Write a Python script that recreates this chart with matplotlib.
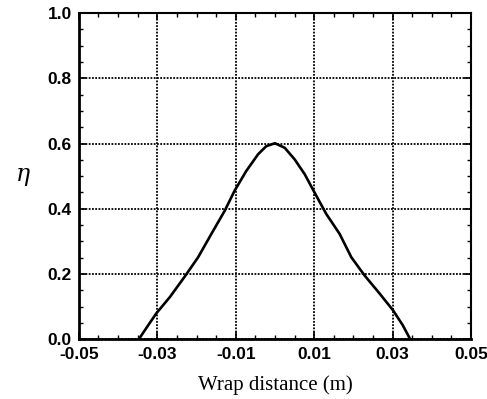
import matplotlib
matplotlib.use("Agg")
import matplotlib.pyplot as plt
from matplotlib.ticker import MultipleLocator

plt.rcParams["mathtext.fontset"] = "dejavuserif"

# curve (wrap distance in m, efficiency)
wrap_x = [-0.0347, -0.0323, -0.0302, -0.0268, -0.0230, -0.0196, -0.0162,
          -0.0128, -0.0103, -0.0073, -0.0043, -0.0022, 0.0000, 0.0025,
          0.0050, 0.0076, 0.0101, 0.0131, 0.0165, 0.0195, 0.0229,
          0.0267, 0.0301, 0.0326, 0.0345]
eta = [0.000, 0.043, 0.080, 0.129, 0.192, 0.251, 0.323,
       0.394, 0.455, 0.516, 0.567, 0.592, 0.601, 0.587,
       0.552, 0.506, 0.450, 0.384, 0.323, 0.251, 0.195,
       0.140, 0.089, 0.043, 0.000]

x_ticks = [-0.05, -0.03, -0.01, 0.01, 0.03, 0.05]
y_ticks = [0.0, 0.2, 0.4, 0.6, 0.8, 1.0]

fig = plt.figure(figsize=(4.87, 3.99), dpi=100)
ax = fig.add_axes([0.162, 0.150, 0.805, 0.817])

ax.plot(wrap_x, eta, color="black", lw=1.9, solid_joinstyle="round")

ax.set_xlim(-0.05, 0.05)
ax.set_ylim(0.0, 1.0)
ax.set_xticks(x_ticks)
ax.set_yticks(y_ticks)
ax.set_xticklabels(["%.2f" % v for v in x_ticks])
ax.set_yticklabels(["%.1f" % v for v in y_ticks])
ax.xaxis.set_minor_locator(MultipleLocator(0.005))
ax.yaxis.set_minor_locator(MultipleLocator(0.05))

ax.tick_params(which="both", direction="in", top=True, right=True, color="black")
ax.tick_params(which="major", length=5, width=1.2)
ax.tick_params(axis="x", which="major", pad=6)
ax.tick_params(axis="y", which="major", pad=5)
ax.tick_params(which="minor", length=3, width=1.0)
for lab in ax.get_xticklabels() + ax.get_yticklabels():
    lab.set_fontfamily("Liberation Sans")
    lab.set_fontweight("bold")
    lab.set_fontsize(12.5)

ax.grid(True, which="major", color="black", linestyle=(0, (1, 0.8)), lw=1.3)

for side in ["left", "bottom"]:
    ax.spines[side].set_linewidth(2.0)
for side in ["top", "right"]:
    ax.spines[side].set_linewidth(1.5)

ax.set_xlabel("Wrap distance (m)", fontfamily="Liberation Serif", fontsize=15, labelpad=9)
ax.set_ylabel(r"$\eta$", fontsize=17, rotation=0, labelpad=18, va="center")

fig.savefig("out.png", dpi=100)
